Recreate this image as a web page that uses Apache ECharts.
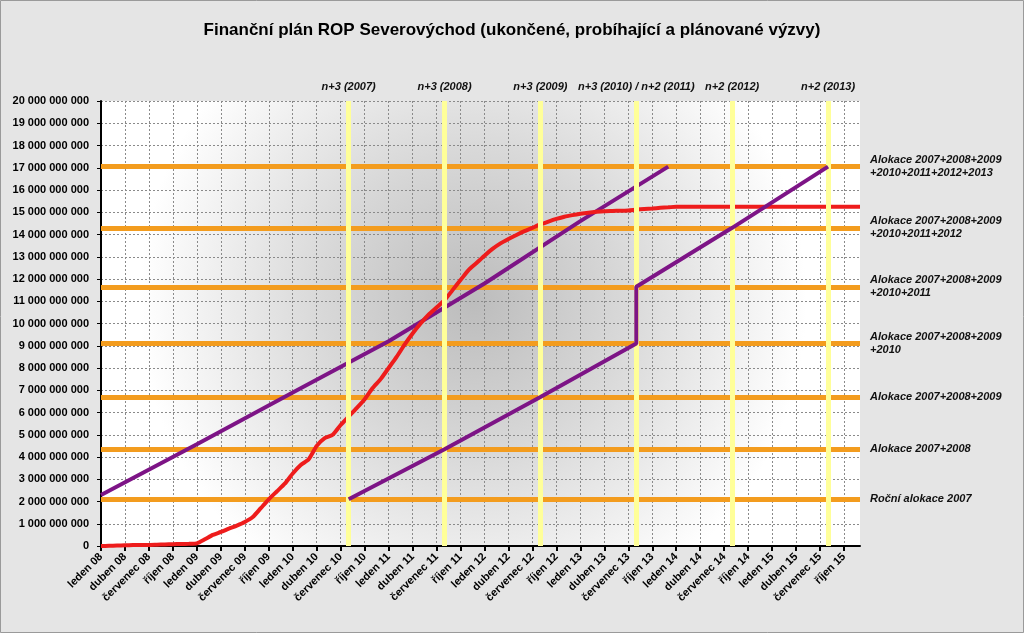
<!DOCTYPE html>
<html>
<head>
<meta charset="utf-8">
<script src="https://cdn.jsdelivr.net/npm/echarts@6/dist/echarts.min.js"></script>
<style>
html, body { margin: 0; padding: 0; }
#main { width: 1024px; height: 633px; }
</style>
</head>
<body>
<div id="main"></div>
<script>
var chart = echarts.init(document.getElementById('main'));

// osa x: mesice leden 08 .. prosinec 15
var monthNames = ['leden', 'únor', 'březen', 'duben', 'květen', 'červen', 'červenec', 'srpen', 'září', 'říjen', 'listopad', 'prosinec'];
var years = ['08', '09', '10', '11', '12', '13', '14', '15'];
var months = [];
years.forEach(function (y) {
    monthNames.forEach(function (m) { months.push(m + ' ' + y); });
});

// cerpani (mld Kc), mesicne
var cerpani = [
    0, 0.01, 0.02, 0.03, 0.04, 0.05, 0.05, 0.06, 0.07, 0.08, 0.09, 0.1,
    0.12, 0.3, 0.5, 0.63, 0.78, 0.92, 1.08, 1.3, 1.7, 2.1, 2.45, 2.8,
    3.26, 3.64, 3.9, 4.5, 4.85, 5.0, 5.44, 5.82, 6.2, 6.6, 7.1, 7.5,
    8.0, 8.5, 9.05, 9.55, 10.0, 10.4, 10.72, 11.05, 11.5, 11.95, 12.4, 12.72,
    13.05, 13.35, 13.6, 13.8, 13.98, 14.15, 14.3, 14.45, 14.58, 14.7, 14.8, 14.87,
    14.93, 14.98, 15.02, 15.05, 15.06, 15.07, 15.08, 15.12, 15.15, 15.17, 15.2, 15.22,
    15.25, 15.25, 15.25, 15.25, 15.25, 15.25, 15.25, 15.25, 15.25, 15.25, 15.25, 15.25,
    15.25, 15.25, 15.25, 15.25, 15.25, 15.25, 15.25, 15.25, 15.25, 15.25, 15.25, 15.25
];

// plan 1 (body: mesic, mld Kc)
var plan1 = [
    ['leden 08', 2.29], ['leden 09', 4.57], ['leden 10', 6.9], ['leden 11', 9.2],
    ['leden 12', 11.8], ['leden 13', 14.6], ['prosinec 13', 17.05]
];
// plan 2 (n+3 / n+2)
var plan2 = [
    ['srpen 10', 2.1], ['srpen 11', 4.35], ['srpen 12', 6.7], ['srpen 13', 9.1],
    ['srpen 13', 11.65], ['srpen 14', 14.3], ['srpen 15', 17.05]
];

// alokace
var alokace = [2.1, 4.35, 6.7, 9.1, 11.65, 14.3, 17.05];
var alokaceNazvy = [
    'Roční alokace 2007',
    'Alokace 2007+2008',
    'Alokace 2007+2008+2009',
    'Alokace 2007+2008+2009\n+2010',
    'Alokace 2007+2008+2009\n+2010+2011',
    'Alokace 2007+2008+2009\n+2010+2011+2012',
    'Alokace 2007+2008+2009\n+2010+2011+2012+2013'
];

// terminy n+3 / n+2
var terminy = ['srpen 10', 'srpen 11', 'srpen 12', 'srpen 13', 'srpen 14', 'srpen 15'];
var terminyNazvy = ['n+3 (2007)', 'n+3 (2008)', 'n+3 (2009)', 'n+3 (2010) / n+2 (2011)', 'n+2 (2012)', 'n+2 (2013)'];

function toPoints(arr) {
    return arr.map(function (p) { return [months.indexOf(p[0]), p[1]]; });
}
function fmtNum(v) {
    var s = String(Math.round(v * 1e9));
    return s.replace(/\B(?=(\d{3})+(?!\d))/g, ' ');
}

var font = 'Liberation Sans, Arial, sans-serif';

var option = {
    backgroundColor: '#e5e5e5',
    animation: false,
    textStyle: { fontFamily: font },
    title: {
        text: 'Finanční plán ROP Severovýchod (ukončené, probíhající a plánované výzvy)',
        left: 'center',
        top: 17,
        textStyle: { fontSize: 17, fontWeight: 'bold', color: '#000', fontFamily: font }
    },
    graphic: [{
        type: 'rect',
        shape: { x: 0.5, y: 0.5, width: 1023, height: 632 },
        style: { fill: 'none', stroke: '#9a9a9a', lineWidth: 1 },
        silent: true
    }],
    grid: {
        left: 101, right: 164, top: 101, bottom: 87,
        show: true,
        borderWidth: 0,
        backgroundColor: new echarts.graphic.RadialGradient(0.49, 0.45, 0.75, [
            { offset: 0, color: '#bcbcbc' },
            { offset: 0.45, color: '#d8d8d8' },
            { offset: 1, color: '#ffffff' }
        ])
    },
    xAxis: {
        type: 'category',
        data: months,
        boundaryGap: false,
        axisLine: { lineStyle: { color: '#000', width: 2 } },
        axisTick: { interval: 2, length: 5, lineStyle: { color: '#000', width: 2 } },
        axisLabel: {
            interval: 2, rotate: 45, margin: 9,
            fontSize: 11, fontWeight: 'bold', color: '#000', fontFamily: font
        },
        splitLine: { show: true, interval: 2, lineStyle: { color: '#8a8a8a', type: [2, 2], width: 1 } }
    },
    yAxis: {
        type: 'value',
        min: 0, max: 20, interval: 1,
        axisLine: { show: true, lineStyle: { color: '#000', width: 2 } },
        axisTick: { show: true, length: 4, lineStyle: { color: '#000', width: 1 } },
        axisLabel: {
            formatter: fmtNum, margin: 12,
            fontSize: 11, fontWeight: 'bold', color: '#000', fontFamily: font
        },
        splitLine: { lineStyle: { color: '#8a8a8a', type: [2, 2], width: 1 } }
    },
    series: [
        {
            name: 'alokace',
            type: 'line',
            data: [],
            markLine: {
                z: 1,
                silent: true,
                symbol: ['none', 'none'],
                lineStyle: { color: '#f39c1e', width: 5, type: 'solid' },
                label: {
                    position: 'end', distance: 10, formatter: '{b}',
                    fontSize: 11, fontWeight: 'bold', fontStyle: 'italic', lineHeight: 13,
                    color: '#111', fontFamily: font, align: 'left'
                },
                data: alokace.map(function (v, i) { return { yAxis: v, name: alokaceNazvy[i] }; })
            }
        },
        {
            name: 'plan1',
            type: 'line',
            z: 3,
            data: toPoints(plan1),
            showSymbol: false,
            lineStyle: { color: '#7d1486', width: 4 }
        },
        {
            name: 'cerpani',
            type: 'line',
            z: 4,
            data: cerpani,
            showSymbol: false,
            smooth: 0.2,
            lineStyle: { color: '#ee1c1c', width: 4 }
        },
        {
            name: 'terminy',
            type: 'line',
            data: [],
            markLine: {
                z: 10,
                silent: true,
                symbol: ['none', 'none'],
                lineStyle: { color: '#ffff99', width: 5, type: 'solid' },
                label: {
                    position: 'end', distance: 9, formatter: '{b}',
                    fontSize: 11, fontWeight: 'bold', fontStyle: 'italic',
                    color: '#111', fontFamily: font
                },
                data: terminy.map(function (m, i) { return { xAxis: months.indexOf(m), name: terminyNazvy[i] }; })
            }
        },
        {
            name: 'plan2',
            type: 'line',
            z: 12,
            data: toPoints(plan2),
            showSymbol: false,
            lineStyle: { color: '#7d1486', width: 4 }
        }
    ]
};
chart.setOption(option);
</script>
</body>
</html>
